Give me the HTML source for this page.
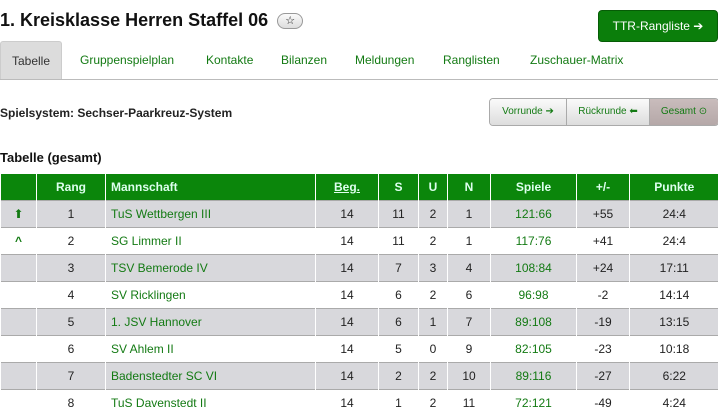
<!DOCTYPE html>
<html><head><meta charset="utf-8"><style>
body{margin:0;width:718px;height:415px;overflow:hidden;background:#fff;font-family:"Liberation Sans",Arial,sans-serif;position:relative}
.a{position:absolute}
h1{position:absolute;left:0;top:10px;margin:0;font-size:18px;font-weight:bold;color:#111}
.star{display:inline-block;width:24px;height:14px;border:1px solid #999;border-radius:8px;background:linear-gradient(#fafafa,#ddd);font-size:11px;text-align:center;line-height:14px;vertical-align:2px;margin-left:4px;font-weight:normal}
.ttr{left:598px;top:10px;width:118px;height:30px;background:#0b7e0b;border:1px solid #065c06;border-radius:4px;color:#fff;font-size:12px;line-height:30px;text-align:center}
.tabs{left:0;top:41px;width:718px;height:38px;border-bottom:1px solid #bbb}
.tab{position:absolute;top:12px;font-size:12px;color:#137a13}
.act{left:0;top:0;width:62px;height:38px;background:#dcdcdc;border:1px solid #ccc;border-bottom:none;border-radius:3px 3px 0 0;color:#333;text-align:center;line-height:38px;font-size:12px;position:absolute;box-sizing:border-box}
.sp{left:0;top:106px;font-size:12px;font-weight:bold;color:#222}
.tg{left:0;top:150px;font-size:13px;font-weight:bold;color:#111}
.seg{left:489px;top:98px;width:228px;height:26px;border:1px solid #aaa;border-radius:4px;overflow:hidden;display:flex;font-size:10px;color:#137a13}
.seg div{line-height:26px;text-align:center;background:linear-gradient(#fafafa,#ddd);border-right:1px solid #aaa}
table{position:absolute;left:0;top:174px;border-collapse:collapse;width:718px;font-size:12px;table-layout:fixed}
th{background:#0b860b;color:#dfe;height:26px;border-left:1px solid #fff;font-weight:bold;padding:0}
td{height:26px;border-left:1px solid #fff;border-top:1px solid #aaa;text-align:center;padding:0;color:#222}
tr:nth-child(even) td{background:#d8d8dc}
td.m{text-align:left;padding-left:5px;color:#137a13}
th.m{text-align:left;padding-left:5px}
td.g{color:#137a13}
</style></head><body>
<h1>1. Kreisklasse Herren Staffel 06 <span class="star">☆</span></h1>
<div class="a ttr">TTR-Rangliste ➔</div>
<div class="a tabs">
<div class="act">Tabelle</div>
<div class="tab" style="left:80px">Gruppenspielplan</div>
<div class="tab" style="left:206px">Kontakte</div>
<div class="tab" style="left:281px">Bilanzen</div>
<div class="tab" style="left:355px">Meldungen</div>
<div class="tab" style="left:443px">Ranglisten</div>
<div class="tab" style="left:530px">Zuschauer-Matrix</div>
</div>
<div class="a sp">Spielsystem: Sechser-Paarkreuz-System</div>
<div class="a seg"><div style="width:76px">Vorrunde ➔</div><div style="width:82px">Rückrunde ⬅</div><div style="flex:1;background:linear-gradient(#c9bcbc,#b5a8a8);border:none">Gesamt ⊙</div></div>
<div class="a tg">Tabelle (gesamt)</div>
<table>
<colgroup><col style="width:36px"><col style="width:69px"><col style="width:210px"><col style="width:63px"><col style="width:40px"><col style="width:29px"><col style="width:43px"><col style="width:86px"><col style="width:53px"><col style="width:89px"></colgroup>
<tr><th></th><th>Rang</th><th class="m">Mannschaft</th><th><u>Beg.</u></th><th>S</th><th>U</th><th>N</th><th>Spiele</th><th>+/-</th><th>Punkte</th></tr>
<tr><td class="g">⬆</td><td>1</td><td class="m">TuS Wettbergen III</td><td>14</td><td>11</td><td>2</td><td>1</td><td class="g">121:66</td><td>+55</td><td>24:4</td></tr>
<tr><td class="g"><b>^</b></td><td>2</td><td class="m">SG Limmer II</td><td>14</td><td>11</td><td>2</td><td>1</td><td class="g">117:76</td><td>+41</td><td>24:4</td></tr>
<tr><td></td><td>3</td><td class="m">TSV Bemerode IV</td><td>14</td><td>7</td><td>3</td><td>4</td><td class="g">108:84</td><td>+24</td><td>17:11</td></tr>
<tr><td></td><td>4</td><td class="m">SV Ricklingen</td><td>14</td><td>6</td><td>2</td><td>6</td><td class="g">96:98</td><td>-2</td><td>14:14</td></tr>
<tr><td></td><td>5</td><td class="m">1. JSV Hannover</td><td>14</td><td>6</td><td>1</td><td>7</td><td class="g">89:108</td><td>-19</td><td>13:15</td></tr>
<tr><td></td><td>6</td><td class="m">SV Ahlem II</td><td>14</td><td>5</td><td>0</td><td>9</td><td class="g">82:105</td><td>-23</td><td>10:18</td></tr>
<tr><td></td><td>7</td><td class="m">Badenstedter SC VI</td><td>14</td><td>2</td><td>2</td><td>10</td><td class="g">89:116</td><td>-27</td><td>6:22</td></tr>
<tr><td></td><td>8</td><td class="m">TuS Davenstedt II</td><td>14</td><td>1</td><td>2</td><td>11</td><td class="g">72:121</td><td>-49</td><td>4:24</td></tr>
</table>
</body></html>
